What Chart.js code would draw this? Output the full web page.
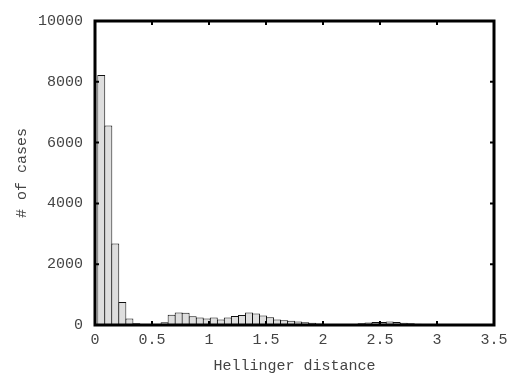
<!DOCTYPE html>
<html>
<head>
<meta charset="utf-8">
<script src="https://cdn.jsdelivr.net/npm/chart.js@4/dist/chart.umd.min.js"></script>
<style>
    html, body { margin: 0; padding: 0; background: #fff; }
    #wrap { width: 515px; height: 382px; }
</style>
</head>
<body>
<div id="wrap"><canvas id="histChart"></canvas></div>
<script>
// bin centres of the histogram (Hellinger distance)
const binCenters = [
    0.055, 0.117, 0.178, 0.240, 0.302, 0.363, 0.425, 0.487, 0.548, 0.610,
    0.672, 0.734, 0.795, 0.857, 0.919, 0.980, 1.042, 1.104, 1.165, 1.227,
    1.289, 1.351, 1.412, 1.474, 1.536, 1.597, 1.659, 1.721, 1.782, 1.844,
    1.906, 1.968, 2.029, 2.091, 2.153, 2.214, 2.276, 2.338, 2.399, 2.461,
    2.523, 2.585, 2.646, 2.708, 2.770, 2.831, 2.893, 2.955, 3.016, 3.078
];

// number of cases per bin
const caseCounts = [
    8220, 6560, 2680, 760, 210, 60, 20, 10, 20, 90,
    340, 410, 400, 285, 245, 210, 245, 180, 245, 295,
    330, 410, 375, 315, 255, 180, 160, 140, 115, 90,
    70, 50, 20, 12, 10, 15, 35, 60, 80, 95,
    100, 115, 100, 75, 55, 40, 25, 15, 10, 5
];

const xTicks = [0, 0.5, 1, 1.5, 2, 2.5, 3, 3.5];
const yTicks = [0, 2000, 4000, 6000, 8000, 10000];

Chart.defaults.font.family = "'Liberation Mono', 'DejaVu Sans Mono', monospace";
Chart.defaults.font.size = 15;
Chart.defaults.color = '#444';

// gnuplot-like frame with inward tick marks on all four sides
const frame = {
    id: 'frame',
    afterDraw(chart) {
        const {ctx, chartArea: a, scales: {x, y}} = chart;
        ctx.save();
        ctx.strokeStyle = '#000';
        ctx.lineWidth = 2;
        ctx.beginPath();
        x.ticks.forEach(t => {
            const px = x.getPixelForValue(t.value);
            ctx.moveTo(px, a.bottom); ctx.lineTo(px, a.bottom - 4);
            ctx.moveTo(px, a.top); ctx.lineTo(px, a.top + 4);
        });
        y.ticks.forEach(t => {
            const py = y.getPixelForValue(t.value);
            ctx.moveTo(a.left, py); ctx.lineTo(a.left + 4, py);
            ctx.moveTo(a.right, py); ctx.lineTo(a.right - 4, py);
        });
        ctx.stroke();
        ctx.lineWidth = 3;
        ctx.strokeRect(a.left, a.top, a.right - a.left, a.bottom - a.top);
        ctx.restore();
    }
};

new Chart(document.getElementById('histChart'), {
    type: 'bar',
    data: {
        datasets: [{
            label: '# of cases',
            data: binCenters.map((c, i) => ({x: c, y: caseCounts[i]})),
            backgroundColor: '#dedede',
            borderColor: '#111',
            borderWidth: 1,
            borderSkipped: false,
            barPercentage: 1.14,
            categoryPercentage: 1,
        }]
    },
    options: {
        responsive: true,
        maintainAspectRatio: false,
        animation: false,
        layout: {
            padding: {top: 10, right: 21, left: 0, bottom: 0}
        },
        plugins: {
            legend: {display: false},
            tooltip: {enabled: false},
        },
        scales: {
            x: {
                type: 'linear',
                min: 0,
                max: 3.5,
                offset: false,
                afterBuildTicks: s => { s.ticks = xTicks.map(v => ({value: v})); },
                afterFit: s => { s.height = 57; },
                grid: {display: false, drawTicks: false},
                border: {display: false},
                ticks: {
                    padding: 6,
                    maxRotation: 0,
                    callback: v => String(v)
                },
                title: {
                    display: true,
                    text: 'Hellinger distance',
                    padding: {top: 7, bottom: 7}
                }
            },
            y: {
                min: 0,
                max: 10000,
                afterBuildTicks: s => { s.ticks = yTicks.map(v => ({value: v})); },
                afterFit: s => { s.width = 95; },
                grid: {display: false, drawTicks: false},
                border: {display: false},
                ticks: {
                    padding: 12,
                    callback: v => String(v)
                },
                title: {
                    display: true,
                    text: '# of cases',
                    padding: {top: 13, bottom: 13}
                }
            }
        }
    },
    plugins: [frame]
});
</script>
</body>
</html>
